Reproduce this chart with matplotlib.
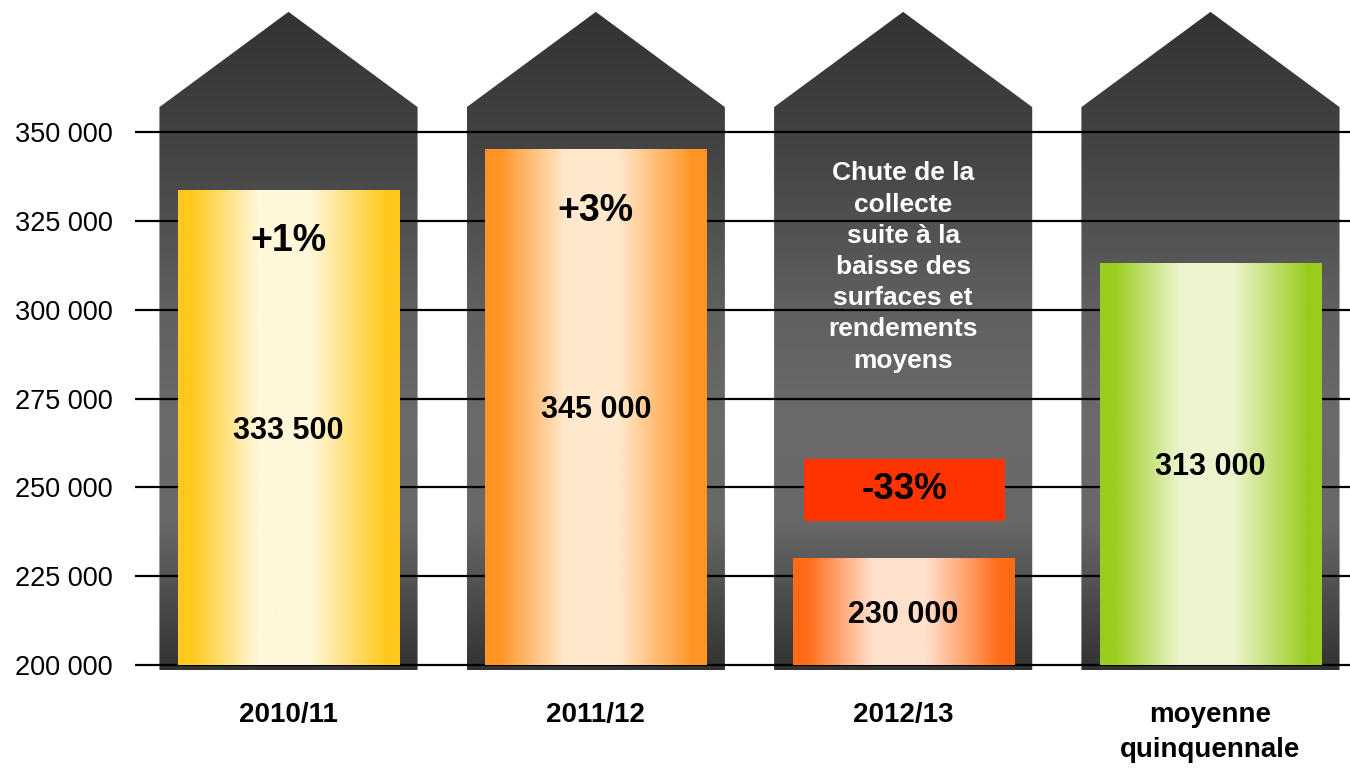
import numpy as np
import matplotlib.pyplot as plt
from matplotlib.colors import LinearSegmentedColormap
from matplotlib.patches import Polygon, Rectangle

plt.rcParams['font.family'] = ['Liberation Sans', 'DejaVu Sans']

categories = ['2010/11', '2011/12', '2012/13', 'moyenne\nquinquennale']
values = [333500, 345000, 230000, 313000]
value_labels = ['333 500', '345 000', '230 000', '313 000']
changes = ['+1%', '+3%', None, None]
edge_colors = ['#FFC81C', '#FF9424', '#FF6A16', '#99CC1C']
light_colors = ['#FFF7DA', '#FFE8CC', '#FFE0CC', '#ECF5CE']
drop_label = '-33%'
note = 'Chute de la\ncollecte\nsuite à la\nbaisse des\nsurfaces et\nrendements\nmoyens'
yticks = [200000, 225000, 250000, 275000, 300000, 325000, 350000]


def main():
    fig = plt.figure(figsize=(13.5, 7.68), dpi=100)
    ax = fig.add_axes([135 / 1350, 1 - 682.8 / 768, 1215 / 1350, 675.2 / 768])
    ax.set_xlim(-0.4995, 3.454)
    ax.set_ylim(195000, 385000)

    # houses: dark roof + body with vertical grey gradient
    house_cmap = LinearSegmentedColormap.from_list('house', [
        (0.0, '#333333'), (0.22, '#454545'), (0.45, '#606060'),
        (0.62, '#6b6b6b'), (0.78, '#686868'), (0.88, '#4f4f4f'),
        (1.0, '#333333')])
    grad = np.linspace(0, 1, 256).reshape(-1, 1)
    hw = 0.42
    for i in range(len(categories)):
        x0, x1 = i - hw, i + hw
        pts = [(x0, 198600), (x0, 357000), (i, 383800), (x1, 357000), (x1, 198600)]
        poly = Polygon(pts, closed=True, facecolor='none', edgecolor='none')
        ax.add_patch(poly)
        im = ax.imshow(grad, cmap=house_cmap, aspect='auto', origin='upper',
                       extent=(x0, x1, 198600, 383800), zorder=1)
        im.set_clip_path(poly)

    for t in yticks:
        ax.axhline(t, color='black', lw=1.6, zorder=2)

    # bars with horizontal gradient
    bw = 0.36
    hgrad = np.linspace(0, 1, 256).reshape(1, -1)
    change_offsets = [-36, -44]
    for i, v in enumerate(values):
        cmap = LinearSegmentedColormap.from_list('b%d' % i, [
            (0.0, edge_colors[i]), (0.06, edge_colors[i]), (0.36, light_colors[i]),
            (0.6, light_colors[i]), (0.94, edge_colors[i]), (1.0, edge_colors[i])])
        ax.imshow(hgrad, cmap=cmap, aspect='auto',
                  extent=(i - bw, i + bw, 200000, v), zorder=3)
        ax.annotate(value_labels[i], (i, (200000 + v) / 2), xytext=(0, -2),
                    textcoords='offset points', ha='center', va='center',
                    fontsize=22, fontweight='bold', zorder=4)
        if changes[i]:
            ax.annotate(changes[i], (i, v), xytext=(0, change_offsets[i]),
                        textcoords='offset points', ha='center', va='center',
                        fontsize=27, fontweight='bold', zorder=4)

    ax.add_patch(Rectangle((2 - 0.323, 240500), 0.655, 17500,
                           facecolor='#FF3300', edgecolor='none', zorder=3))
    ax.text(2.003, 249300, drop_label, ha='center', va='center',
            fontsize=26.5, fontweight='bold', zorder=4)
    ax.text(2, 312000, note, ha='center', va='center', color='white',
            fontsize=19, fontweight='bold', linespacing=1.38, zorder=4)

    ax.set_yticks(yticks)
    ax.set_yticklabels(['{:,}'.format(t).replace(',', ' ') for t in yticks], fontsize=19.5)
    ax.set_xticks(range(len(categories)))
    ax.set_xticklabels(categories, fontsize=20, fontweight='bold', linespacing=1.45)
    ax.tick_params(axis='y', length=0, pad=16)
    ax.tick_params(axis='x', length=0, pad=14)
    for s in ax.spines.values():
        s.set_visible(False)

    fig.savefig('out.png', dpi=100)


if __name__ == '__main__':
    main()
